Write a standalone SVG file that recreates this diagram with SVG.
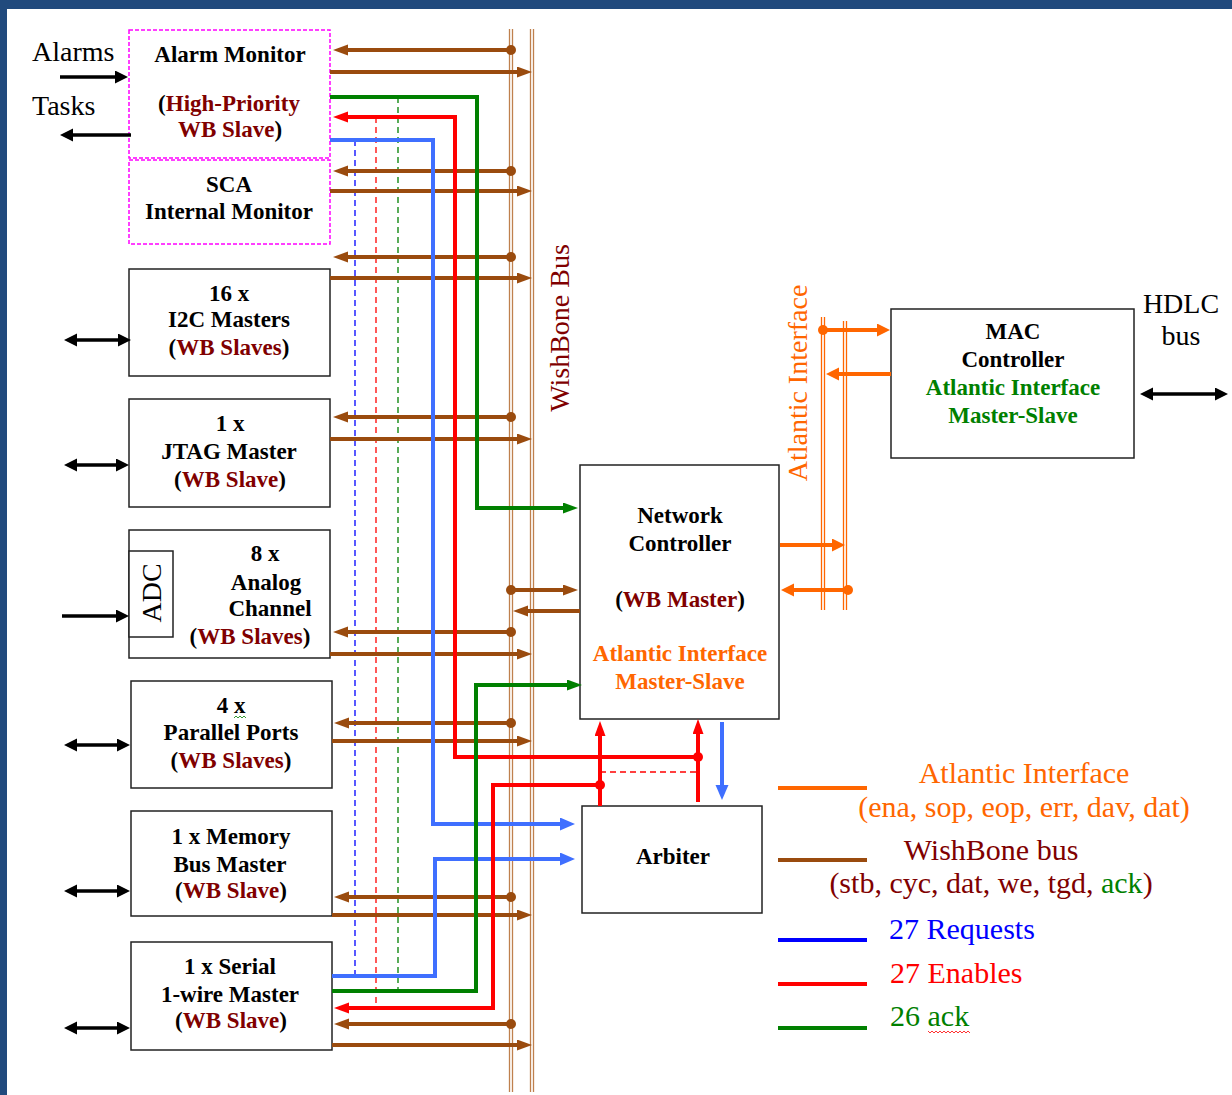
<svg xmlns="http://www.w3.org/2000/svg" width="1232" height="1095" viewBox="0 0 1232 1095">
<defs>
<style>
.b{font-family:"Liberation Serif","Times New Roman",serif;font-weight:bold;font-size:23px;text-anchor:middle;fill:#000}
.r{font-family:"Liberation Serif","Times New Roman",serif;font-size:28px;fill:#000}
.lg{font-family:"Liberation Serif","Times New Roman",serif;font-size:30px}
.m{fill:#800000}
.o{fill:#FF6600}
.g{fill:#008000}
.box{fill:#fff;stroke:#222;stroke-width:1.5}
.dbox{fill:none;stroke:#FF00FF;stroke-width:1.5;stroke-dasharray:4 2}
.bus{stroke:#BF804D;stroke-width:1.3;fill:none}
.abus{stroke:#FF6600;stroke-width:1.3;fill:none}
.wb{stroke:#9A4B0E;stroke-width:4;fill:none}
.wbl{stroke:#9A4B0E;stroke-width:4;fill:none;marker-end:url(#aBr)}
.red{stroke:#FF0000;stroke-width:4;fill:none}
.grn{stroke:#008000;stroke-width:4;fill:none}
.blu{stroke:#3F6FFF;stroke-width:4;fill:none}
.org{stroke:#FF6600;stroke-width:4;fill:none;marker-end:url(#aOr)}
.blk{stroke:#000;stroke-width:3.5;fill:none;marker-end:url(#aBk)}
.blk2{stroke:#000;stroke-width:3.5;fill:none;marker-start:url(#aBk);marker-end:url(#aBk)}
.dsh{stroke-width:1.3;fill:none;stroke-dasharray:6 4}
</style>
<marker id="aBr" markerUnits="userSpaceOnUse" markerWidth="16" markerHeight="12" refX="5" refY="5.5" orient="auto"><path d="M0,0 L15,5.5 L0,11 z" fill="#9A4B0E"/></marker>
<marker id="aRd" markerUnits="userSpaceOnUse" markerWidth="16" markerHeight="12" refX="5" refY="5.5" orient="auto"><path d="M0,0 L15,5.5 L0,11 z" fill="#FF0000"/></marker>
<marker id="aGn" markerUnits="userSpaceOnUse" markerWidth="16" markerHeight="12" refX="5" refY="5.5" orient="auto"><path d="M0,0 L15,5.5 L0,11 z" fill="#008000"/></marker>
<marker id="aBl" markerUnits="userSpaceOnUse" markerWidth="16" markerHeight="14" refX="5" refY="6.5" orient="auto"><path d="M0,0 L15,6.5 L0,13 z" fill="#3F6FFF"/></marker>
<marker id="aOr" markerUnits="userSpaceOnUse" markerWidth="14" markerHeight="14" refX="3" refY="6.5" orient="auto"><path d="M0,0 L13,6.5 L0,13 z" fill="#FF6600"/></marker>
<marker id="aBk" markerUnits="userSpaceOnUse" markerWidth="14" markerHeight="14" refX="3" refY="6.5" orient="auto-start-reverse"><path d="M0,0 L13,6.5 L0,13 z" fill="#000"/></marker>
</defs>

<rect x="0" y="0" width="1232" height="1095" fill="#fff"/>
<rect x="0" y="0" width="1232" height="9" fill="#214A7D"/>
<rect x="0" y="0" width="7" height="1095" fill="#214A7D"/>

<g id="buses">
<line class="bus" x1="509.5" y1="29" x2="509.5" y2="1092"/>
<line class="bus" x1="512.5" y1="29" x2="512.5" y2="1092"/>
<line class="bus" x1="530.5" y1="29" x2="530.5" y2="1092"/>
<line class="bus" x1="533.5" y1="29" x2="533.5" y2="1092"/>
<line class="abus" x1="821.5" y1="317" x2="821.5" y2="610"/>
<line class="abus" x1="824.5" y1="317" x2="824.5" y2="610"/>
<line class="abus" x1="843.5" y1="321" x2="843.5" y2="610"/>
<line class="abus" x1="846.5" y1="321" x2="846.5" y2="610"/>
<text class="r m" font-size="29" text-anchor="middle" transform="translate(569,328) rotate(-90)">WishBone Bus</text>
<text class="r o" text-anchor="middle" transform="translate(807,383) rotate(-90)">Atlantic Interface</text>
</g>

<g id="external-labels">
<text class="r" x="32" y="61">Alarms</text>
<text class="r" x="32" y="115">Tasks</text>
<text class="r" x="1181" y="313" text-anchor="middle">HDLC</text>
<text class="r" x="1181" y="345" text-anchor="middle">bus</text>
</g>

<g id="alarm-monitor">
<rect class="dbox" x="129" y="30" width="201" height="128"/>
<text class="b" x="230" y="62">Alarm Monitor</text>
<text class="b" x="229" y="111">(<tspan class="m">High-Priority</tspan></text>
<text class="b" x="230" y="137"><tspan class="m">WB Slave</tspan>)</text>
</g>

<g id="sca-monitor">
<rect class="dbox" x="129" y="160" width="201" height="84"/>
<text class="b" x="229" y="192">SCA</text>
<text class="b" x="229" y="219">Internal Monitor</text>
</g>

<g id="i2c">
<rect class="box" x="129" y="269" width="201" height="107"/>
<text class="b" x="229" y="301">16 x</text>
<text class="b" x="229" y="327">I2C Masters</text>
<text class="b" x="229" y="355">(<tspan class="m">WB Slaves</tspan>)</text>
</g>

<g id="jtag">
<rect class="box" x="129" y="399" width="201" height="108"/>
<text class="b" x="230" y="431">1 x</text>
<text class="b" x="229" y="459">JTAG Master</text>
<text class="b" x="230" y="487">(<tspan class="m">WB Slave</tspan>)</text>
</g>

<g id="analog">
<rect class="box" x="129" y="530" width="201" height="128"/>
<rect class="box" x="129" y="551" width="44" height="86"/>
<text class="r" text-anchor="middle" transform="translate(161,593) rotate(-90)">ADC</text>
<text class="b" x="265" y="561">8 x</text>
<text class="b" x="266" y="590">Analog</text>
<text class="b" x="270" y="616">Channel</text>
<text class="b" x="250" y="644">(<tspan class="m">WB Slaves</tspan>)</text>
</g>

<g id="parallel">
<rect class="box" x="131" y="681" width="201" height="107"/>
<text class="b" x="231" y="713">4 x</text>
<path d="M234,718 l2,-2 l2,2 l2,-2 l2,2 l2,-2 l2,2" stroke="#008000" stroke-width="0.8" fill="none"/>
<text class="b" x="231" y="740">Parallel Ports</text>
<text class="b" x="231" y="768">(<tspan class="m">WB Slaves</tspan>)</text>
</g>

<g id="memory">
<rect class="box" x="131" y="811" width="201" height="105"/>
<text class="b" x="231" y="844">1 x Memory</text>
<text class="b" x="230" y="872">Bus Master</text>
<text class="b" x="231" y="898">(<tspan class="m">WB Slave</tspan>)</text>
</g>

<g id="serial">
<rect class="box" x="131" y="942" width="201" height="108"/>
<text class="b" x="230" y="974">1 x Serial</text>
<text class="b" x="230" y="1002">1-wire Master</text>
<text class="b" x="231" y="1028">(<tspan class="m">WB Slave</tspan>)</text>
</g>

<g id="network-controller">
<rect class="box" x="580" y="465" width="199" height="254"/>
<text class="b" x="680" y="523">Network</text>
<text class="b" x="680" y="551">Controller</text>
<text class="b" x="680" y="607">(<tspan class="m">WB Master</tspan>)</text>
<text class="b o" x="680" y="661">Atlantic Interface</text>
<text class="b o" x="680" y="689">Master-Slave</text>
</g>

<g id="arbiter">
<rect class="box" x="582" y="806" width="180" height="107"/>
<text class="b" x="673" y="864">Arbiter</text>
</g>

<g id="mac-controller">
<rect class="box" x="891" y="309" width="243" height="149"/>
<text class="b" x="1013" y="339">MAC</text>
<text class="b" x="1013" y="367">Controller</text>
<text class="b g" x="1013" y="395">Atlantic Interface</text>
<text class="b g" x="1013" y="423">Master-Slave</text>
</g>

<g id="connectors">
<!-- dashed thin verticals -->
<line class="dsh" stroke="#0000FF" x1="355" y1="140" x2="355" y2="976"/>
<line class="dsh" stroke="#FF0000" x1="376" y1="117" x2="376" y2="1008"/>
<line class="dsh" stroke="#008000" x1="398" y1="97" x2="398" y2="991"/>
<line class="dsh" stroke="#FF0000" x1="600" y1="772" x2="698" y2="772"/>

<!-- WishBone pairs -->
<path class="wbl" d="M511,50 L343,50"/><path class="wbl" d="M330,72 L522,72"/>
<path class="wbl" d="M511,171 L343,171"/><path class="wbl" d="M330,191 L522,191"/>
<path class="wbl" d="M511,257 L343,257"/><path class="wbl" d="M330,278 L522,278"/>
<path class="wbl" d="M511,417 L343,417"/><path class="wbl" d="M330,439 L522,439"/>
<path class="wbl" d="M511,632 L343,632"/><path class="wbl" d="M330,654 L522,654"/>
<path class="wbl" d="M511,723 L344,723"/><path class="wbl" d="M332,741 L522,741"/>
<path class="wbl" d="M511,897 L344,897"/><path class="wbl" d="M332,915 L522,915"/>
<path class="wbl" d="M511,1024 L344,1024"/><path class="wbl" d="M332,1045 L522,1045"/>
<path class="wbl" d="M511,590 L568,590"/><path class="wbl" d="M580,611 L523,611"/>
<g fill="#9A4B0E">
<circle cx="511" cy="50" r="5"/><circle cx="511" cy="171" r="5"/><circle cx="511" cy="257" r="5"/>
<circle cx="511" cy="417" r="5"/><circle cx="511" cy="590" r="5"/><circle cx="511" cy="632" r="5"/>
<circle cx="511" cy="723" r="5"/><circle cx="511" cy="897" r="5"/><circle cx="511" cy="1024" r="5"/>
</g>

<!-- requests (blue) -->
<path class="blu" d="M330,140 L433,140 L433,824 L565,824" marker-end="url(#aBl)"/>
<path class="blu" d="M332,976 L435,976 L435,859 L565,859" marker-end="url(#aBl)"/>
<path class="blu" d="M722,722 L722,790" marker-end="url(#aBl)"/>

<!-- enables (red) -->
<path class="red" d="M698,757 L455,757 L455,117 L343,117" marker-end="url(#aRd)"/>
<path class="red" d="M600,785 L493,785 L493,1008 L344,1008" marker-end="url(#aRd)"/>
<path class="red" d="M600,806 L600,731" marker-end="url(#aRd)"/>
<path class="red" d="M698,802 L698,729" marker-end="url(#aRd)"/>
<circle cx="698" cy="757" r="5" fill="#FF0000"/>
<circle cx="600" cy="785" r="5" fill="#FF0000"/>

<!-- ack (green) -->
<path class="grn" d="M330,97 L477,97 L477,508 L568,508" marker-end="url(#aGn)"/>
<path class="grn" d="M332,991 L476,991 L476,685 L572,685" marker-end="url(#aGn)"/>

<!-- Atlantic interface (orange) -->
<path class="org" d="M823,330 L880,330"/>
<path class="org" d="M891,374 L836,374"/>
<path class="org" d="M780,545 L835,545"/>
<path class="org" d="M848,590 L791,590"/>
<circle cx="823" cy="330" r="5" fill="#FF6600"/>
<circle cx="848" cy="590" r="5" fill="#FF6600"/>

<!-- external black arrows -->
<path class="blk" d="M60,77 L118,77"/>
<path class="blk" d="M131,135 L70,135"/>
<path class="blk2" d="M74,340 L121,340"/>
<path class="blk2" d="M74,465 L119,465"/>
<path class="blk" d="M62,616 L119,616"/>
<path class="blk2" d="M74,745 L120,745"/>
<path class="blk2" d="M74,891 L120,891"/>
<path class="blk2" d="M74,1028 L120,1028"/>
<path class="blk2" d="M1150,394 L1218,394"/>
</g>

<g id="legend">
<line x1="778" y1="788" x2="867" y2="788" stroke="#FF6600" stroke-width="4"/>
<text class="lg o" x="1024" y="783" text-anchor="middle">Atlantic Interface</text>
<text class="lg o" x="1024" y="817" text-anchor="middle">(ena, sop, eop, err, dav, dat)</text>
<line x1="778" y1="860" x2="867" y2="860" stroke="#9A4B0E" stroke-width="4"/>
<text class="lg m" x="991" y="860" text-anchor="middle">WishBone bus</text>
<text class="lg m" x="991" y="893" text-anchor="middle">(stb, cyc, dat, we, tgd, <tspan class="g">ack</tspan>)</text>
<line x1="778" y1="940" x2="867" y2="940" stroke="#0000FF" stroke-width="4"/>
<text class="lg" x="889" y="939" fill="#0000FF">27 Requests</text>
<line x1="778" y1="984" x2="867" y2="984" stroke="#FF0000" stroke-width="4"/>
<text class="lg" x="890" y="983" fill="#FF0000">27 Enables</text>
<line x1="778" y1="1028" x2="867" y2="1028" stroke="#008000" stroke-width="4"/>
<text class="lg g" x="890" y="1026">26 ack</text>
<path d="M928,1031 l2,2 l2,-2 l2,2 l2,-2 l2,2 l2,-2 l2,2 l2,-2 l2,2 l2,-2 l2,2 l2,-2 l2,2 l2,-2 l2,2 l2,-2 l2,2 l2,-2 l2,2 l2,-2 l2,2" stroke="#FF0000" stroke-width="0.8" fill="none"/>
</g>
</svg>
